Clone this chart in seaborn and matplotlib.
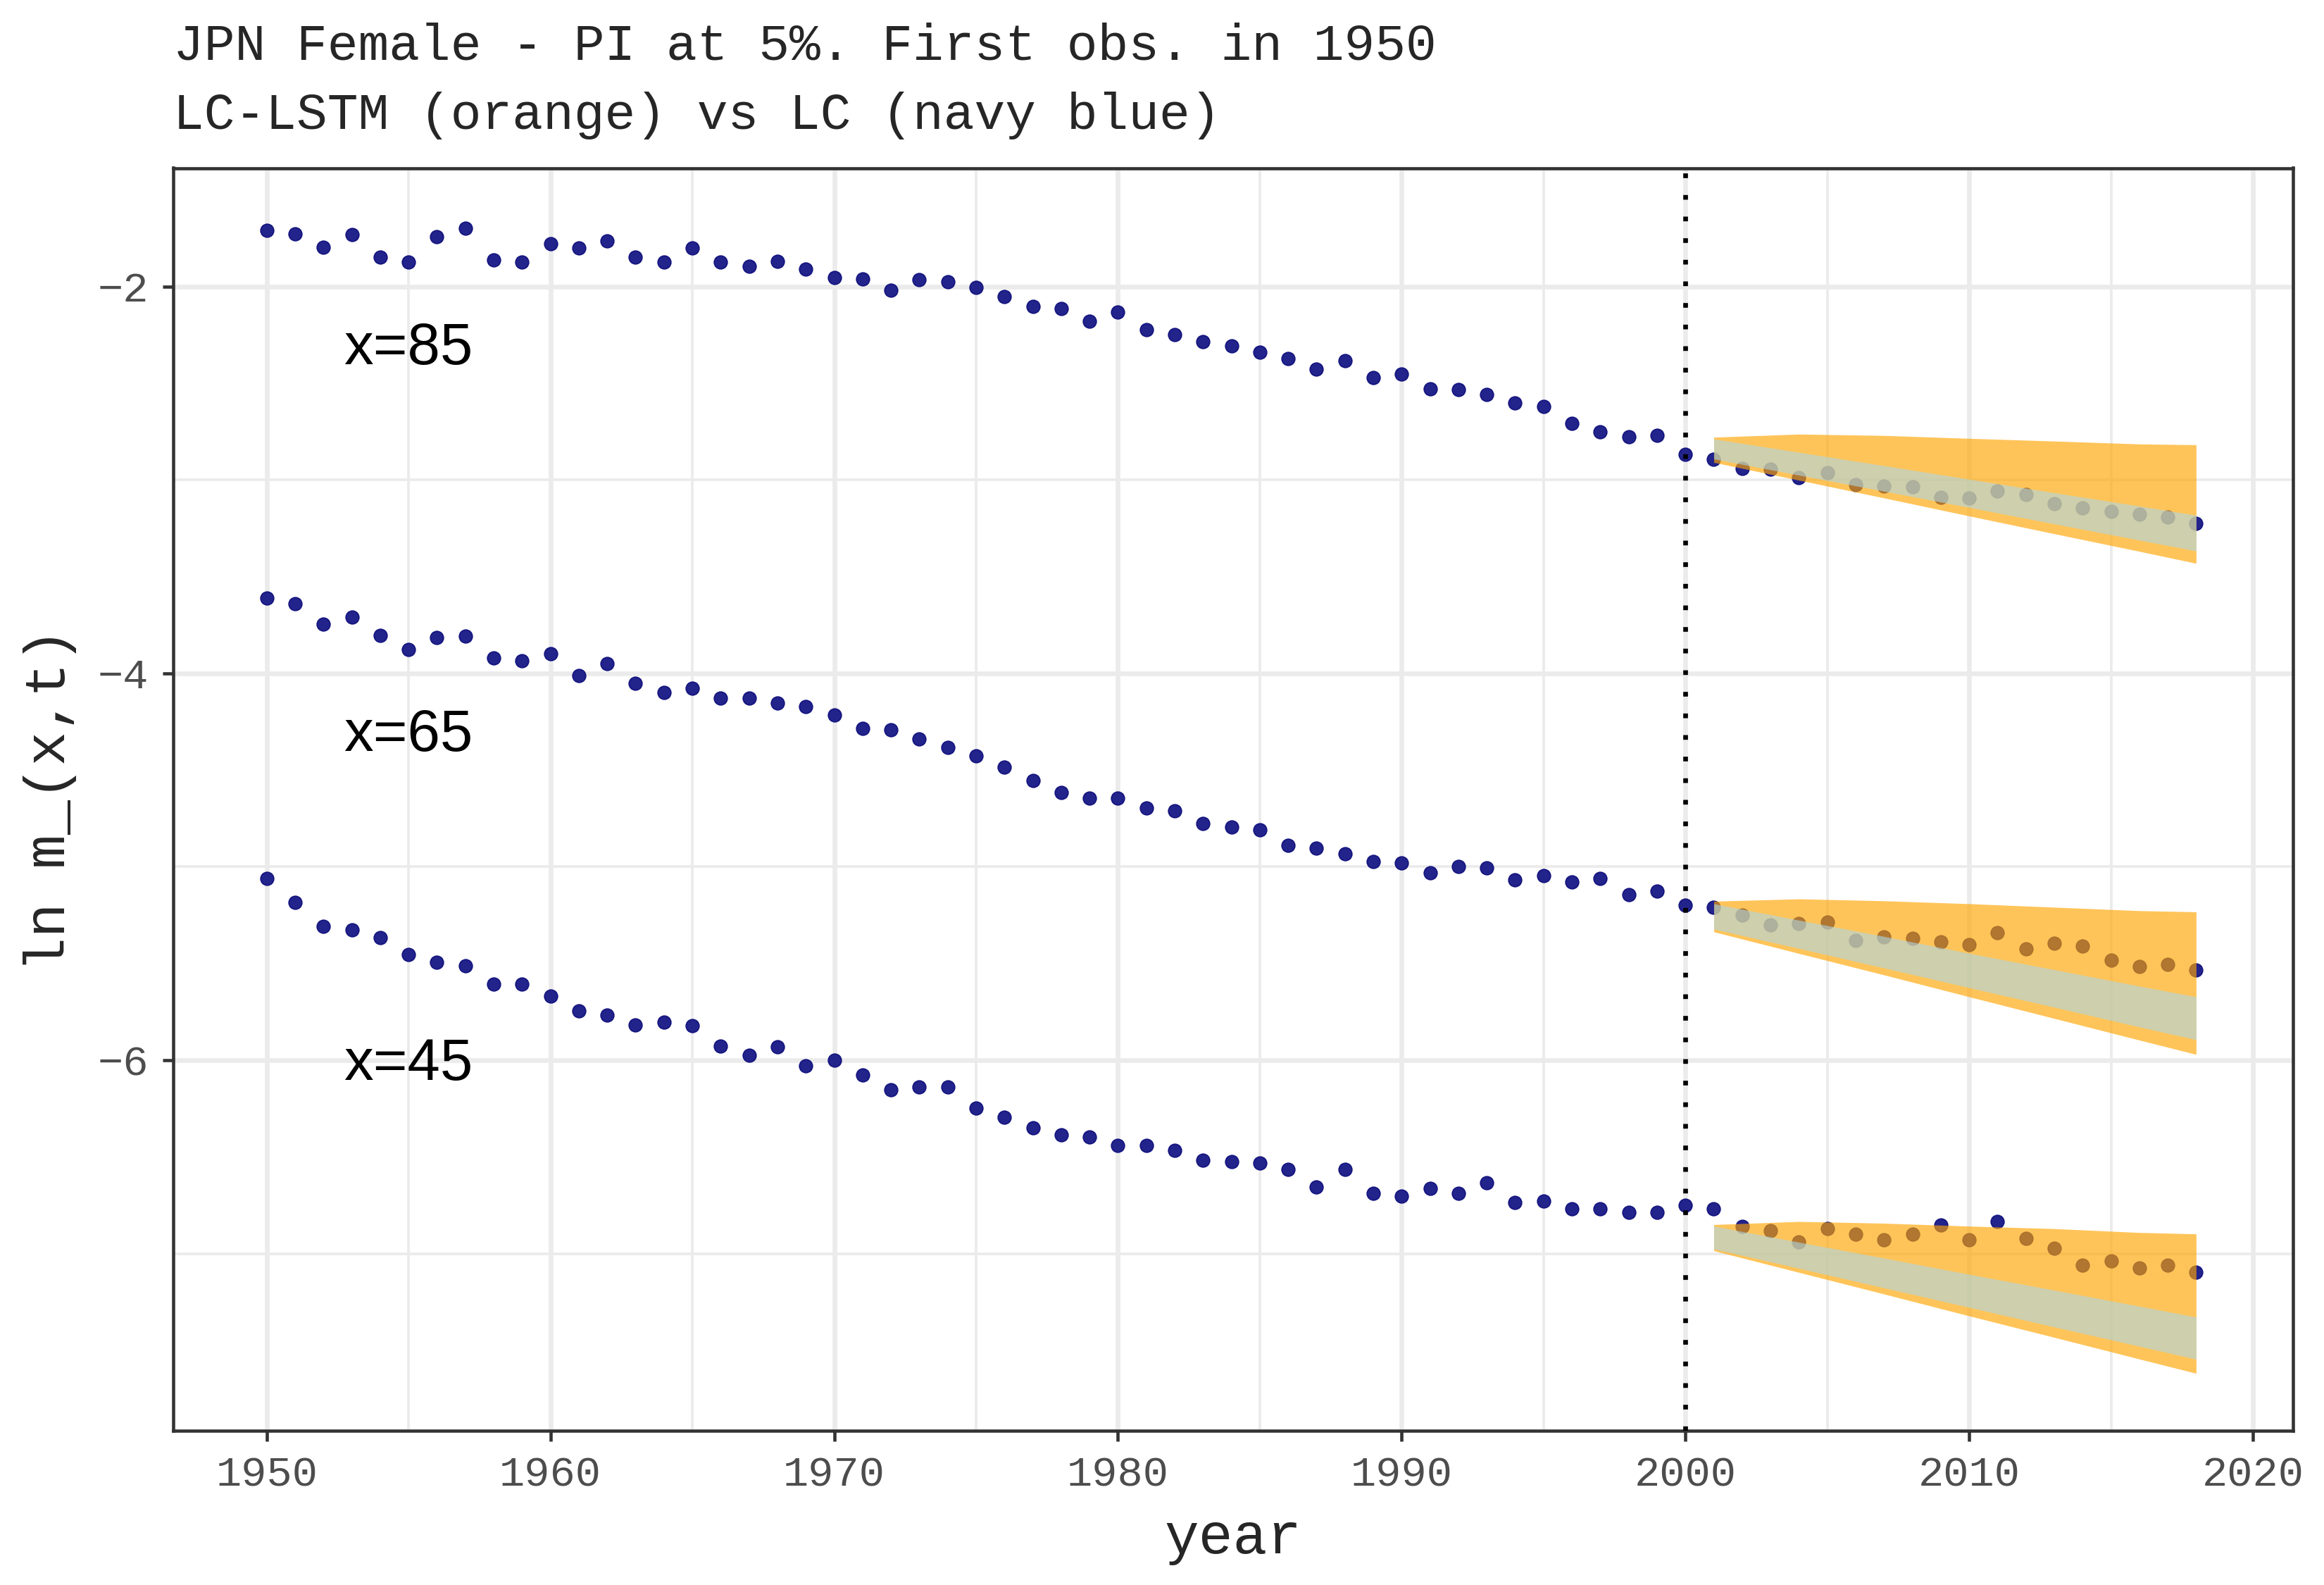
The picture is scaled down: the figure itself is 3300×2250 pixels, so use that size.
import numpy as np
import pandas as pd
import matplotlib
matplotlib.use("Agg")
import matplotlib.pyplot as plt
from matplotlib.ticker import MultipleLocator
import seaborn as sns

# --- observed log death rates, JPN female, 1950-2018 ---
years = list(range(1950, 2019))

lnm_85 = [-1.710, -1.726, -1.795, -1.732, -1.848, -1.874, -1.741, -1.697, -1.864, -1.872,
          -1.777, -1.802, -1.765, -1.846, -1.872, -1.799, -1.875, -1.896, -1.870, -1.910,
          -1.952, -1.961, -2.019, -1.965, -1.976, -2.004, -2.050, -2.104, -2.112, -2.181,
          -2.133, -2.224, -2.250, -2.286, -2.308, -2.341, -2.373, -2.428, -2.383, -2.472,
          -2.452, -2.530, -2.533, -2.558, -2.602, -2.621, -2.708, -2.752, -2.777, -2.770,
          -2.868, -2.893, -2.942, -2.945, -2.988, -2.961, -3.025, -3.033, -3.036, -3.089,
          -3.092, -3.058, -3.076, -3.121, -3.143, -3.164, -3.176, -3.191, -3.225]

lnm_65 = [-3.610, -3.641, -3.747, -3.710, -3.805, -3.875, -3.816, -3.806, -3.922, -3.936,
          -3.897, -4.013, -3.950, -4.053, -4.097, -4.078, -4.126, -4.128, -4.155, -4.172,
          -4.217, -4.286, -4.290, -4.339, -4.383, -4.427, -4.486, -4.555, -4.617, -4.646,
          -4.646, -4.697, -4.712, -4.777, -4.795, -4.810, -4.890, -4.904, -4.933, -4.973,
          -4.979, -5.031, -4.999, -5.005, -5.068, -5.047, -5.079, -5.061, -5.143, -5.126,
          -5.199, -5.209, -5.249, -5.300, -5.295, -5.285, -5.380, -5.364, -5.371, -5.387,
          -5.402, -5.340, -5.424, -5.394, -5.409, -5.482, -5.515, -5.506, -5.532]

lnm_45 = [-5.061, -5.183, -5.308, -5.325, -5.365, -5.453, -5.492, -5.512, -5.606, -5.606,
          -5.668, -5.744, -5.768, -5.819, -5.805, -5.823, -5.928, -5.976, -5.932, -6.030,
          -6.001, -6.076, -6.154, -6.137, -6.138, -6.248, -6.296, -6.351, -6.387, -6.398,
          -6.442, -6.442, -6.467, -6.518, -6.525, -6.533, -6.566, -6.657, -6.566, -6.689,
          -6.704, -6.664, -6.689, -6.635, -6.737, -6.729, -6.769, -6.769, -6.788, -6.788,
          -6.751, -6.767, -6.859, -6.882, -6.941, -6.871, -6.900, -6.930, -6.900, -6.853,
          -6.930, -6.834, -6.922, -6.973, -7.061, -7.039, -7.075, -7.061, -7.097]

# --- 5% prediction intervals (forecast years) ---
pi_years = [2001, 2004, 2007, 2010, 2013, 2016, 2018]

lstm_hi_85 = [-2.779, -2.763, -2.770, -2.785, -2.799, -2.814, -2.818]
lstm_lo_85 = [-2.909, -3.001, -3.093, -3.186, -3.278, -3.369, -3.431]
lc_hi_85 = [-2.788, -2.857, -2.926, -2.996, -3.066, -3.135, -3.182]
lc_lo_85 = [-2.891, -2.975, -3.058, -3.142, -3.227, -3.311, -3.367]

lstm_hi_65 = [-5.178, -5.166, -5.176, -5.191, -5.209, -5.227, -5.233]
lstm_lo_65 = [-5.336, -5.448, -5.559, -5.672, -5.784, -5.896, -5.970]
lc_hi_65 = [-5.191, -5.276, -5.360, -5.447, -5.532, -5.617, -5.672]
lc_lo_65 = [-5.322, -5.422, -5.523, -5.625, -5.726, -5.828, -5.894]

lstm_hi_45 = [-6.850, -6.834, -6.843, -6.858, -6.871, -6.891, -6.898]
lstm_lo_45 = [-6.985, -7.097, -7.209, -7.322, -7.433, -7.545, -7.619]
lc_hi_45 = [-6.858, -6.941, -7.023, -7.107, -7.189, -7.272, -7.328]
lc_lo_45 = [-6.976, -7.076, -7.177, -7.278, -7.379, -7.479, -7.546]

ages = ["x=85", "x=65", "x=45"]
label_y = [-2.32, -4.32, -6.02]

df = pd.DataFrame({
    "year": years * 3,
    "lnm": lnm_85 + lnm_65 + lnm_45,
    "age": [a for a in ages for _ in years],
})
pi = pd.DataFrame({
    "year": pi_years * 3,
    "age": [a for a in ages for _ in pi_years],
    "lstm_hi": lstm_hi_85 + lstm_hi_65 + lstm_hi_45,
    "lstm_lo": lstm_lo_85 + lstm_lo_65 + lstm_lo_45,
    "lc_hi": lc_hi_85 + lc_hi_65 + lc_hi_45,
    "lc_lo": lc_lo_85 + lc_lo_65 + lc_lo_45,
})

# --- style (ggplot theme_bw look) ---
sns.set_theme(style="white")
mono = ["Liberation Mono", "DejaVu Sans Mono"]
plt.rcParams["font.family"] = mono

fig, ax = plt.subplots(figsize=(11, 7.5), dpi=300)
fig.subplots_adjust(left=0.0746, right=0.9866, top=0.894, bottom=0.0973)

sns.scatterplot(data=df, x="year", y="lnm", ax=ax, color="#23238C", s=20,
                edgecolor="#14147F", linewidth=0.4, legend=False, zorder=3)

for a in ages:
    sub = pi[pi["age"] == a]
    ax.fill_between(sub["year"], sub["lstm_lo"], sub["lstm_hi"],
                    color="#FFA500", alpha=0.65, linewidth=0, zorder=4)
    ax.fill_between(sub["year"], sub["lc_lo"], sub["lc_hi"],
                    color="#ADD8E6", alpha=0.6, linewidth=0, zorder=5)

ax.axvline(2000, color="black", linewidth=1.6, linestyle=(0, (1.0, 3.6)), zorder=6)

for a, ly in zip(ages, label_y):
    ax.text(1955, ly, a, ha="center", va="center", fontsize=20,
            family=["Liberation Sans", "DejaVu Sans"], color="black", zorder=7)

ax.set_xlim(1946.71, 2021.41)
ax.set_ylim(-7.916, -1.387)
ax.xaxis.set_major_locator(MultipleLocator(10))
ax.xaxis.set_minor_locator(MultipleLocator(5))
ax.yaxis.set_major_locator(MultipleLocator(2))
ax.yaxis.set_minor_locator(MultipleLocator(1))
ax.grid(which="major", color="#EBEBEB", linewidth=1.6, zorder=0)
ax.grid(which="minor", color="#EBEBEB", linewidth=0.9, zorder=0)
ax.set_axisbelow(True)
for sp in ax.spines.values():
    sp.set_color("#333333")
    sp.set_linewidth(1.1)
ax.tick_params(which="major", length=3.5, width=1.1, color="#333333",
               labelsize=14.5, labelcolor="#4D4D4D", pad=5, bottom=True, left=True)
ax.tick_params(which="minor", length=0)

ax.set_xlabel("year", fontsize=19.5, labelpad=6)
ax.set_ylabel("ln m_(x,t)", fontsize=19.5, labelpad=7)

fig.text(0.0746, 0.971, "JPN Female - PI at 5%. First obs. in 1950",
         fontsize=17.5, ha="left", va="center")
fig.text(0.0746, 0.927, "LC-LSTM (orange) vs LC (navy blue)",
         fontsize=17.5, ha="left", va="center")

fig.savefig("out.png", dpi=300, facecolor="white")
